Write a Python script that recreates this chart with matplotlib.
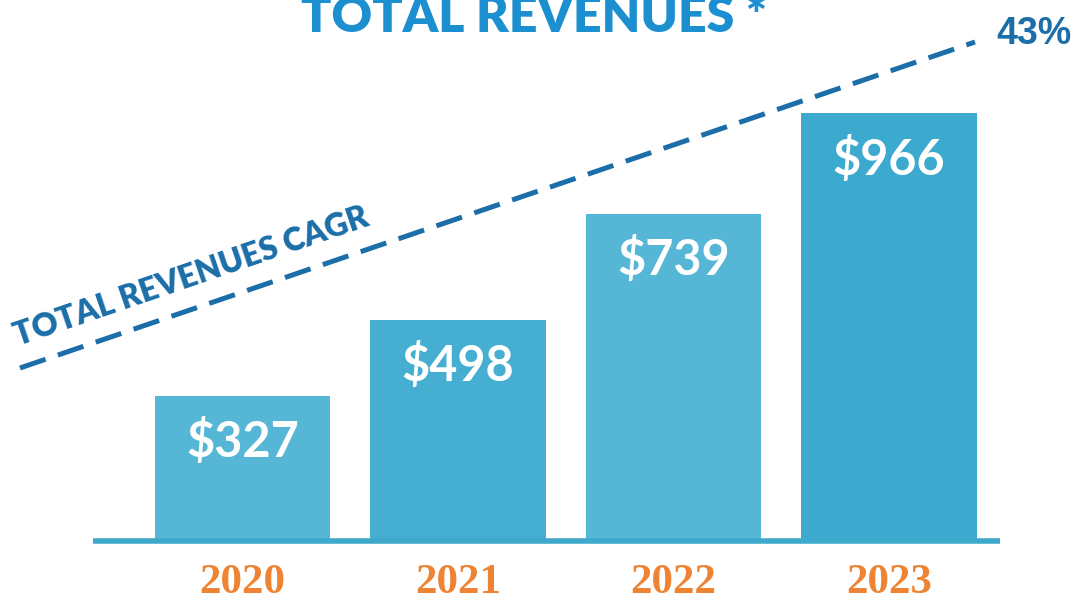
import numpy as np
import matplotlib
matplotlib.use("Agg")
import matplotlib.pyplot as plt

# revenue by year, $ millions
years = ["2020", "2021", "2022", "2023"]
revenues = [327, 498, 739, 966]
cagr_label = "43%"

bar_colors = ["#55b6d5", "#45aed1", "#56b6d5", "#3caacf"]
line_blue = "#1b6ea8"
title_blue = "#1b8fcf"
year_orange = "#ee8433"

fig = plt.figure(figsize=(10.76, 6.05), dpi=100)
ax = fig.add_axes([0, 0, 1, 1])

# pixel-like scaling: baseline sits 65 px above the bottom edge
px_per_unit = 0.4416
ax.set_ylim(-65 / px_per_unit, (605 - 65) / px_per_unit)
ax.set_xlim(-242.5 / 215.5, (1076 - 242.5) / 215.5)
ax.axis("off")

x = np.arange(len(years))
bars = ax.bar(x, revenues, width=0.815, color=bar_colors, zorder=2)

# baseline under the bars
ax.plot([-0.694, 3.515], [-2, -2], color="#3fa9cc", lw=4, solid_capstyle="butt", zorder=3)

for xi, val in zip(x, revenues):
    ax.annotate(f"${val}", (xi, val), xytext=(0, -33), textcoords="offset points",
                ha="center", va="center", color="white", fontsize=35,
                fontweight="bold", family=["Lato", "DejaVu Sans"], zorder=4)
    ax.annotate(years[xi], (xi, 0), xytext=(0, -31), textcoords="offset points",
                ha="center", va="center", color=year_orange, fontsize=31,
                fontweight="bold", family=["Liberation Serif", "DejaVu Serif"],
                zorder=4)

# CAGR trend line and its label
fig.add_artist(plt.Line2D([20 / 1076, 975 / 1076], [1 - 368 / 605, 1 - 42 / 605],
                          color=line_blue, lw=3.6, dashes=(5.4, 2.6),
                          solid_capstyle="butt", dash_capstyle="butt"))
fig.text(18 / 1076, 1 - 346 / 605, "TOTAL REVENUES CAGR", rotation=18.9,
         rotation_mode="anchor", ha="left", va="baseline", color=line_blue,
         fontsize=23, fontweight="heavy", family=["Lato", "DejaVu Sans"])
fig.text(1034 / 1076, 1 - 34 / 605, cagr_label, ha="center", va="center",
         color=line_blue, fontsize=27, fontweight="bold",
         family=["Liberation Sans", "DejaVu Sans"])

fig.text(534 / 1076, 1 - 32 / 605, "TOTAL REVENUES *", ha="center", va="baseline",
         color=title_blue, fontsize=36, fontweight="heavy",
         family=["Lato", "DejaVu Sans"])

fig.savefig("out.png", dpi=100, facecolor="white")
